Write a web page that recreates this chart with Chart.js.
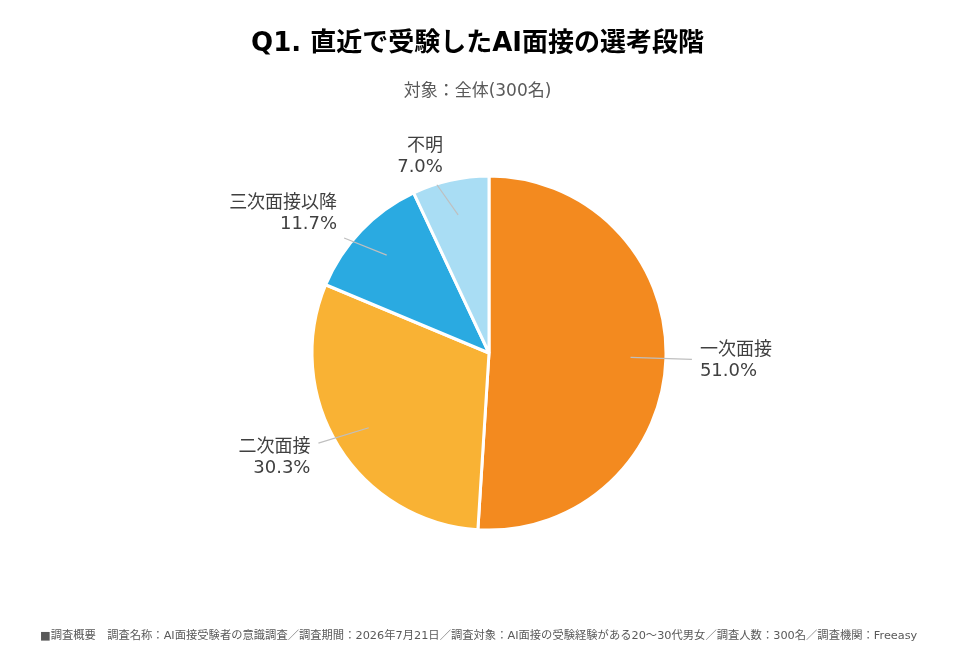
<!DOCTYPE html>
<html lang="ja">
<head>
<meta charset="utf-8">
<script src="https://cdn.jsdelivr.net/npm/chart.js@4.4.1/dist/chart.umd.min.js"></script>
<style>
  html, body { margin: 0; padding: 0; background: #fff; }
  body { width: 955px; height: 654px; position: relative; overflow: hidden;
         font-family: "DejaVu Sans", "Noto Sans CJK JP", sans-serif; }
  #title { position: absolute; left: 0; width: 955px; top: 21px; text-align: center;
           font-size: 26px; font-weight: bold; color: #000; }
  #sub { position: absolute; left: 0; width: 955px; top: 76px; text-align: center;
         font-size: 17px; color: #595959; }
  #foot { position: absolute; left: 40px; top: 626px; font-size: 11.3px; color: #595959; white-space: nowrap; }
  #wrap { position: absolute; left: 0; top: 0; width: 955px; height: 654px; }
</style>
</head>
<body>
<div id="wrap"><canvas id="myChart"></canvas></div>
<div id="title">Q1. 直近で受験したAI面接の選考段階</div>
<div id="sub">対象：全体(300名)</div>
<div id="foot">■調査概要　調査名称：AI面接受験者の意識調査／調査期間：2026年7月21日／調査対象：AI面接の受験経験がある20～30代男女／調査人数：300名／調査機関：Freeasy</div>
<script>
/*データ*/
var categories = ['一次面接', '二次面接', '三次面接以降', '不明'];
var values = [51.0, 30.3, 11.7, 7.0];
var colors = ['#F38A1F', '#F9B234', '#2AAAE1', '#A9DDF4'];

/*ラベルの置き方（角度補正, 半径比, 揃え, x, y）*/
var labelPlace = [
    { da: 0,    k: 1.147, align: 'left',  dx: 8,  dy: -9 },
    { da: 4,    k: 1.09,  align: 'right', dx: -8, dy: 4 },
    { da: -5.3, k: 1.045, align: 'right', dx: -7, dy: -35 },
    { da: -4.6, k: 0.995, align: 'right', dx: 6,  dy: -38 }
];

/*引き出し線とラベル*/
var pieLabels = {
    id: 'pieLabels',
    afterDraw: function(chart) {
        var ctx = chart.ctx;
        var arcs = chart.getDatasetMeta(0).data;
        ctx.save();
        arcs.forEach(function(arc, i) {
            var p = labelPlace[i];
            var r = arc.outerRadius;
            var mid = (arc.startAngle + arc.endAngle) / 2;
            var a2 = mid + p.da * Math.PI / 180;
            var x1 = arc.x + Math.cos(mid) * r * 0.8;
            var y1 = arc.y + Math.sin(mid) * r * 0.8;
            var x2 = arc.x + Math.cos(a2) * r * p.k;
            var y2 = arc.y + Math.sin(a2) * r * p.k;
            ctx.strokeStyle = '#BFBFBF';
            ctx.lineWidth = 1.2;
            ctx.beginPath();
            ctx.moveTo(x1, y1);
            ctx.lineTo(x2, y2);
            ctx.stroke();
            ctx.fillStyle = '#404040';
            ctx.font = '18px "DejaVu Sans", "Noto Sans CJK JP", sans-serif';
            ctx.textAlign = p.align;
            ctx.textBaseline = 'middle';
            ctx.fillText(categories[i], x2 + p.dx, y2 + p.dy);
            ctx.fillText(values[i].toFixed(1) + '%', x2 + p.dx, y2 + p.dy + 21);
        });
        ctx.restore();
    }
};

var ctx = document.getElementById('myChart').getContext('2d');
var myChart = new Chart(ctx, {
    type: 'pie',
    data: {
        labels: categories,
        datasets: [{
            data: values,
            backgroundColor: colors,
            borderColor: '#FFFFFF',
            borderWidth: 3
        }]
    },
    options: {
        responsive: true,
        maintainAspectRatio: false,
        animation: false,
        radius: 177,
        layout: {
            padding: { left: 300, right: 277, top: 164, bottom: 112 }
        },
        plugins: {
            legend: { display: false },
            tooltip: { enabled: false }
        }
    },
    plugins: [pieLabels]
});
</script>
</body>
</html>
